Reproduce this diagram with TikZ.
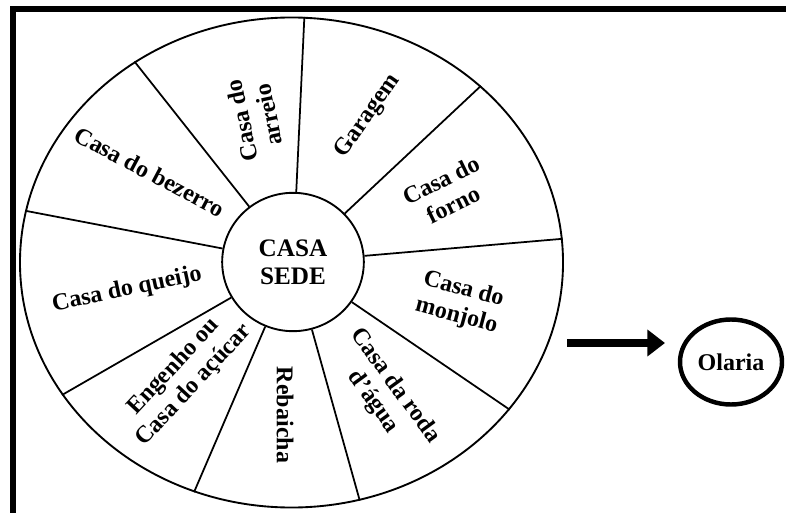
\documentclass[tikz,border=0pt]{standalone}
\usepackage{fontspec}
\setmainfont{Liberation Serif}
\usetikzlibrary{shapes.geometric,arrows.meta}

\begin{document}
\begin{tikzpicture}[x=0.03cm, y=-0.03cm]
	\tikzstyle{every node} = [font=\fontsize{20.5}{23.5}\selectfont\bfseries, align=center, inner sep=0pt]
	\tikzstyle{ring} = [ellipse, draw, line width=1.6pt]
	\tikzstyle{spoke} = [line width=1.5pt]
	\useasboundingbox (0,0) rectangle (786,513);
	% frame
	\draw [line width=5pt, line join=miter] (13,513) -- (13,9) -- (786,9);
	% wheel
	\node [ring, minimum width=16.29cm, minimum height=14.7cm] (wheel) at (291.5,262.5) {};
	\node [ring, minimum width=4.25cm, minimum height=4.15cm, font=\fontsize{21.5}{24}\selectfont\bfseries] (sede) at (293,262) {CASA\\SEDE};
	\draw [spoke] (sede) -- (wheel.87);
	\draw [spoke] (sede) -- (wheel.43);
	\draw [spoke] (sede) -- (wheel.5);
	\draw [spoke] (sede) -- (wheel.-34);
	\draw [spoke] (sede) -- (wheel.-74);
	\draw [spoke] (sede) -- (wheel.247);
	\draw [spoke] (sede) -- (wheel.210);
	\draw [spoke] (sede) -- (wheel.169);
	\draw [spoke] (sede) -- (wheel.128);
	% sectors
	\node [rotate=102] (arreio) at (255,118) {Casa do\\arreio};
	\node [rotate=55] (garagem) at (368,116) {Garagem};
	\node [rotate=26] (forno) at (447,192) {Casa do\\forno};
	\node [rotate=-15] (monjolo) at (460,303) {Casa do\\monjolo};
	\node [rotate=-54] (roda) at (384,394) {Casa da roda\\d'água};
	\node [rotate=-90] (rebaicha) at (285,415) {Rebaicha};
	\node [rotate=47] (engenho) at (184,376) {Engenho ou\\Casa do açúcar};
	\node [rotate=12] (queijo) at (127,290) {Casa do queijo};
	\node [rotate=-28] (bezerro) at (150,172) {Casa do bezerro};
	% olaria
	\node [ellipse, draw, line width=3.8pt, minimum width=3.06cm, minimum height=2.55cm] (olaria) at (731,362) {Olaria};
	\coordinate (arrtail) at (567,343);
	\coordinate (arrhead) at (665,343);
	\draw [line width=6pt, -{Triangle[length=15pt, width=22pt]}] (arrtail) -- (arrhead);
\end{tikzpicture}
\end{document}
